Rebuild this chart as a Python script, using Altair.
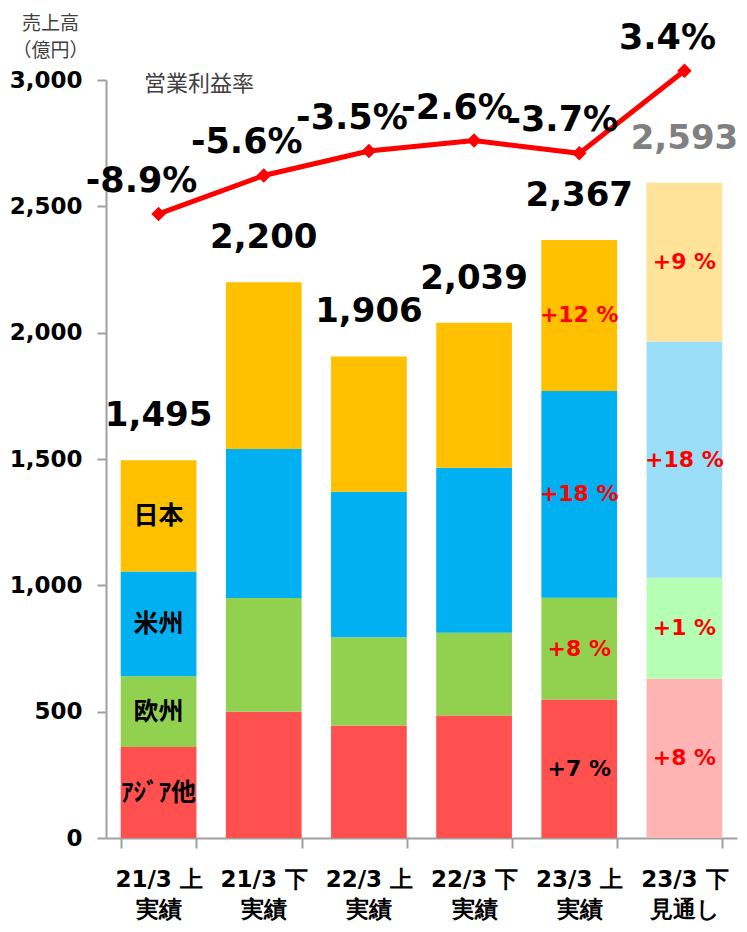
import altair as alt
import pandas as pd

# ---- data ----
periods = ["21/3 上", "21/3 下", "22/3 上", "22/3 下", "23/3 上", "23/3 下"]
status = ["実績", "実績", "実績", "実績", "実績", "見通し"]
forecast = [False, False, False, False, False, True]
region_ids = ["asia", "europe", "americas", "japan"]
region_names = ["ｱｼﾞｱ他", "欧州", "米州", "日本"]
asia = [360, 500, 445, 485, 548, 630]
europe = [280, 450, 350, 327, 403, 400]
americas = [415, 590, 575, 653, 818, 935]
japan = [440, 660, 536, 574, 598, 628]
totals = [1495, 2200, 1906, 2039, 2367, 2593]
margin = [-8.9, -5.6, -3.5, -2.6, -3.7, 3.4]
growth_23_1 = ["+7 %", "+8 %", "+18 %", "+12 %"]
growth_23_2 = ["+8 %", "+1 %", "+18 %", "+9 %"]

cats = [p + "|" + s for p, s in zip(periods, status)]
series = [asia, europe, americas, japan]

bar_rows = []
for i, c in enumerate(cats):
    base = 0
    for j, rid in enumerate(region_ids):
        v = series[j][i]
        bar_rows.append({
            "cat": c, "region": rid, "start": base, "end": base + v,
            "mid": base + v / 2, "fc": forecast[i],
            "ckey": rid + ("_fc" if forecast[i] else ""),
        })
        base += v
bar_df = pd.DataFrame(bar_rows)

tot_df = pd.DataFrame({
    "cat": cats, "total": totals, "fc": forecast,
    "label": [f"{t:,}" for t in totals],
})

line_df = pd.DataFrame({
    "cat": cats, "margin": margin,
    "label": [f"{m:.1f}%" for m in margin],
})

seg_rows = []
for idx, texts, kind in [(0, region_names, "name"), (4, growth_23_1, "growth"), (5, growth_23_2, "growth")]:
    for j, rid in enumerate(region_ids):
        r = bar_df[(bar_df.cat == cats[idx]) & (bar_df.region == rid)].iloc[0]
        seg_rows.append({"cat": cats[idx], "region": rid, "mid": r["mid"],
                         "text": texts[j], "kind": kind, "fc": forecast[idx]})
seg_df = pd.DataFrame(seg_rows)

color_domain = ["asia", "europe", "americas", "japan",
                "asia_fc", "europe_fc", "americas_fc", "japan_fc"]
color_range = ["#FF5050", "#92D050", "#00B0F0", "#FFC000",
               "#FFB4B4", "#B4FFB4", "#9ADFF7", "#FFE399"]

NUM_FONT = "DejaVu Sans"
JP_FONT = "Noto Sans CJK JP"

x_enc = alt.X(
    "cat:N", sort=cats, title=None,
    scale=alt.Scale(paddingInner=0.28, paddingOuter=0.14),
    axis=alt.Axis(
        labelExpr="split(datum.label, '|')", labelAngle=0,
        labelFont=NUM_FONT, labelFontSize=23, labelFontWeight="bold",
        labelColor="#000000", labelLineHeight=30, labelPadding=20,
        labelBaseline="top",
        tickBand="extent", tickSize=10, tickColor="#A0A0A0", tickWidth=2,
        domainColor="#A0A0A0", domainWidth=2, grid=False,
    ),
)

yscale = alt.Scale(domain=[0, 3000], nice=False)
yaxis = alt.Axis(
    values=[0, 500, 1000, 1500, 2000, 2500, 3000], format=",d",
    labelFont=NUM_FONT, labelFontSize=23, labelFontWeight="bold",
    labelColor="#000000", labelPadding=15,
    tickSize=9, tickColor="#A0A0A0", tickWidth=2,
    domainColor="#A0A0A0", domainWidth=2, grid=False,
    title=["売上高", "（億円）"], titleAngle=0, titleAlign="center",
    titleBaseline="top", titleX=-56, titleY=-66,
    titleFont=JP_FONT, titleFontSize=19, titleFontWeight="normal",
    titleColor="#404040", titleLineHeight=27,
)


def yenc(field):
    return alt.Y(field, scale=yscale, axis=yaxis)


bars = alt.Chart(bar_df).mark_bar().encode(
    x=x_enc, y=yenc("start:Q"), y2="end:Q",
    color=alt.Color("ckey:N", scale=alt.Scale(domain=color_domain, range=color_range), legend=None),
)

tot_text = alt.Chart(tot_df).mark_text(
    dy=-44, fontSize=34, fontWeight="bold", font=NUM_FONT, baseline="middle",
).encode(
    x=x_enc, y=yenc("total:Q"), text="label:N",
    color=alt.condition("datum.fc", alt.value("#808080"), alt.value("#000000")),
)

name_text = alt.Chart(seg_df).transform_filter("datum.kind == 'name'").mark_text(
    fontSize=25, fontWeight="bold", font=JP_FONT, baseline="middle", color="#000000",
).encode(x=x_enc, y=yenc("mid:Q"), text="text:N")

growth_text = alt.Chart(seg_df).transform_filter("datum.kind == 'growth'").mark_text(
    fontSize=22, fontWeight="bold", font=NUM_FONT, baseline="middle",
).encode(
    x=x_enc, y=yenc("mid:Q"), text="text:N",
    color=alt.condition("datum.region == 'asia' && !datum.fc",
                        alt.value("#000000"), alt.value("#FF0000")),
)

group1 = alt.layer(bars, tot_text, name_text, growth_text)

mscale = alt.Scale(domain=[-62.5, 2.6], nice=False, zero=False)

line = alt.Chart(line_df).mark_line(color="#FF0000", strokeWidth=5).encode(
    x=x_enc, y=alt.Y("margin:Q", scale=mscale, axis=None),
)
pts = alt.Chart(line_df).mark_point(shape="diamond", filled=True, size=210,
                                    color="#FF0000", opacity=1).encode(
    x=x_enc, y=alt.Y("margin:Q", scale=mscale, axis=None),
)
mlabels = alt.Chart(line_df).mark_text(
    dx=-17, dy=-33, fontSize=35, fontWeight="bold", font=NUM_FONT,
    baseline="middle", color="#000000",
).encode(x=x_enc, y=alt.Y("margin:Q", scale=mscale, axis=None), text="label:N")

legend_note = alt.Chart(pd.DataFrame({"t": ["営業利益率"]})).mark_text(
    font=JP_FONT, fontSize=22, color="#404040", baseline="middle", align="center",
).encode(x=alt.value(93), y=alt.value(4), text="t:N")

group2 = alt.layer(line, pts, mlabels, legend_note)

chart = alt.layer(group1, group2).resolve_scale(y="independent").properties(
    width=631, height=758,
    padding={"left": 98, "top": 72, "right": 2, "bottom": 86},
    autosize=alt.AutoSizeParams(type="none"),
).configure_view(stroke=None)

chart.save("out.html", embed_options={"renderer": "svg", "actions": False})
